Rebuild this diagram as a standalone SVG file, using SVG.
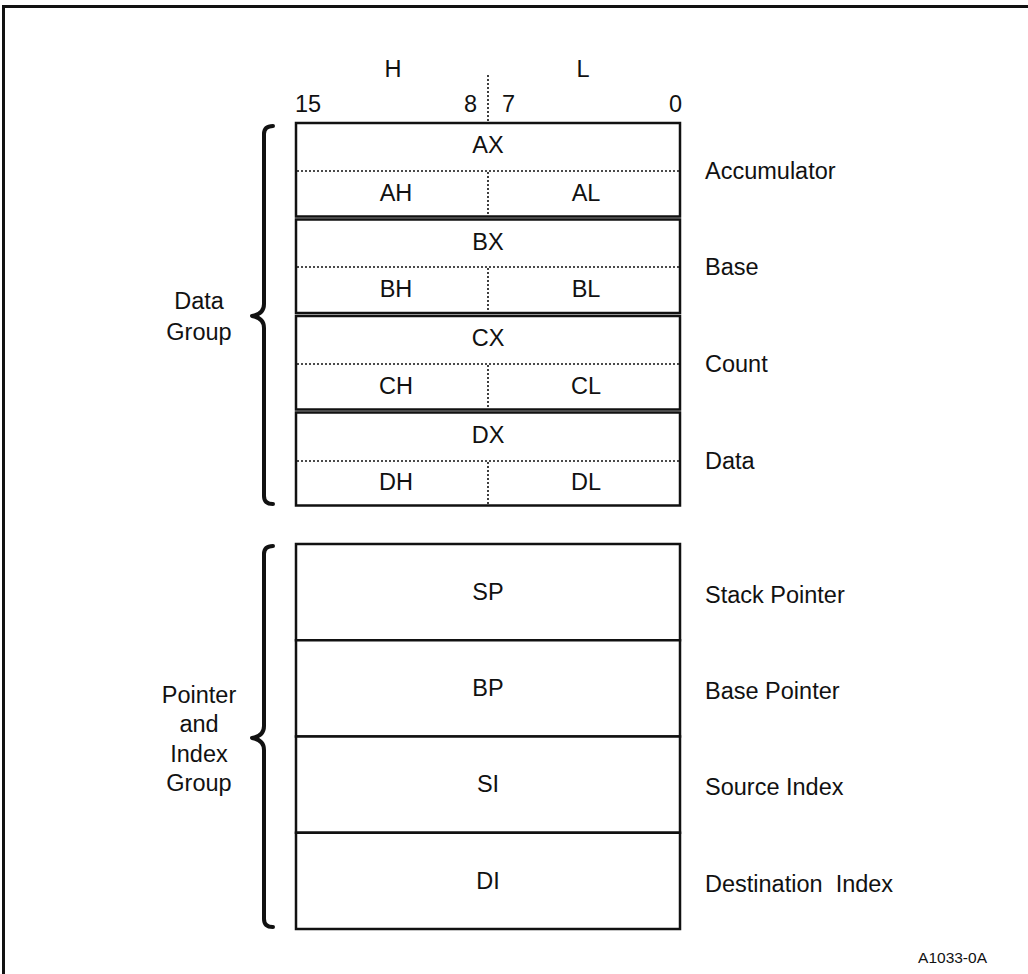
<svg xmlns="http://www.w3.org/2000/svg" width="1028" height="974" viewBox="0 0 1028 974">
<style>
text{font-family:"Liberation Sans",Arial,sans-serif;font-size:23.5px;fill:#111}
.m{text-anchor:middle}
.reg{fill:#fff;stroke:#111;stroke-width:2.5}
.dot{stroke:#111;stroke-width:1.6;stroke-dasharray:2 2;fill:none}
.brace{fill:none;stroke:#111;stroke-width:4;stroke-linejoin:round;stroke-linecap:round}
.small{font-size:15.5px}
</style>
<rect width="1028" height="974" fill="#fff"/>
<path d="M3.5 974 V6.5 H1028" fill="none" stroke="#111" stroke-width="3"/>
<g id="header">
<text class="m" x="393" y="77">H</text>
<text class="m" x="583" y="77">L</text>
<text x="295" y="112">15</text>
<text x="477" y="112" text-anchor="end">8</text>
<text x="502" y="112">7</text>
<text x="682" y="112" text-anchor="end">0</text>
<line class="dot" x1="488" y1="75" x2="488" y2="121"/>
</g>
<g id="AX">
<rect class="reg" x="296" y="123" width="384" height="93.5"/>
<line class="dot" x1="297" y1="171" x2="679" y2="171"/>
<line class="dot" x1="488" y1="172" x2="488" y2="216"/>
<text class="m" x="488" y="153">AX</text>
<text class="m" x="396" y="201">AH</text>
<text class="m" x="586" y="201">AL</text>
<text x="705" y="179">Accumulator</text>
</g>
<g id="BX">
<rect class="reg" x="296" y="219.5" width="384" height="93.5"/>
<line class="dot" x1="297" y1="267" x2="679" y2="267"/>
<line class="dot" x1="488" y1="268" x2="488" y2="313"/>
<text class="m" x="488" y="250">BX</text>
<text class="m" x="396" y="297">BH</text>
<text class="m" x="586" y="297">BL</text>
<text x="705" y="275">Base</text>
</g>
<g id="CX">
<rect class="reg" x="296" y="316" width="384" height="93.5"/>
<line class="dot" x1="297" y1="364" x2="679" y2="364"/>
<line class="dot" x1="488" y1="365" x2="488" y2="409"/>
<text class="m" x="488" y="346">CX</text>
<text class="m" x="396" y="394">CH</text>
<text class="m" x="586" y="394">CL</text>
<text x="705" y="372">Count</text>
</g>
<g id="DX">
<rect class="reg" x="296" y="412.5" width="384" height="93"/>
<line class="dot" x1="297" y1="461" x2="679" y2="461"/>
<line class="dot" x1="488" y1="462" x2="488" y2="505"/>
<text class="m" x="488" y="443">DX</text>
<text class="m" x="396" y="490">DH</text>
<text class="m" x="586" y="490">DL</text>
<text x="705" y="469">Data</text>
</g>
<g id="dataGroup">
<path class="brace" d="M273 126 Q264 126 264 134 V304 Q264 314 252 316 Q264 318 264 328 V496 Q264 504 273 504"/>
<text class="m" x="199" y="309">Data</text>
<text class="m" x="199" y="340">Group</text>
</g>
<g id="SP">
<rect class="reg" x="296" y="544" width="384" height="96.25"/>
<text class="m" x="488" y="600">SP</text>
<text x="705" y="603">Stack Pointer</text>
</g>
<g id="BP">
<rect class="reg" x="296" y="640.25" width="384" height="96.25"/>
<text class="m" x="488" y="696">BP</text>
<text x="705" y="699">Base Pointer</text>
</g>
<g id="SI">
<rect class="reg" x="296" y="736.5" width="384" height="96.25"/>
<text class="m" x="488" y="792">SI</text>
<text x="705" y="795">Source Index</text>
</g>
<g id="DI">
<rect class="reg" x="296" y="832.75" width="384" height="96.25"/>
<text class="m" x="488" y="889">DI</text>
<text x="705" y="892" xml:space="preserve">Destination  Index</text>
</g>
<g id="pointerGroup">
<path class="brace" d="M273 546 Q264 546 264 554 V726 Q264 736 252 738 Q264 740 264 750 V919 Q264 927 273 927"/>
<text class="m" x="199" y="703">Pointer</text>
<text class="m" x="199" y="732">and</text>
<text class="m" x="199" y="762">Index</text>
<text class="m" x="199" y="791">Group</text>
</g>
<g id="connectors"></g>
<text class="small" x="987" y="963" text-anchor="end">A1033-0A</text>
</svg>
